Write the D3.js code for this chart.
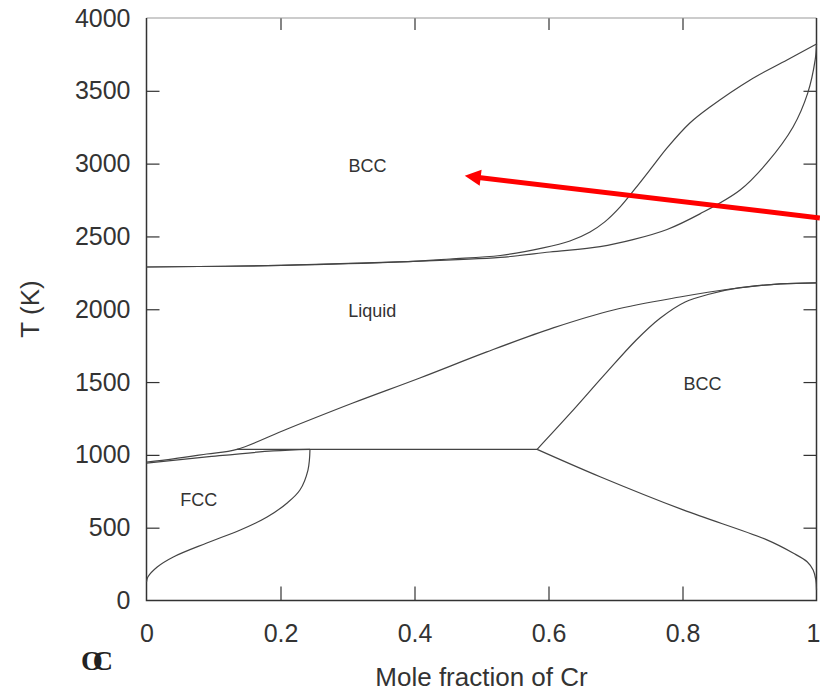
<!DOCTYPE html>
<html>
<head>
<meta charset="utf-8">
<script src="https://cdn.jsdelivr.net/npm/d3@7"></script>
<style>
  html, body { margin: 0; padding: 0; background: #fff; }
  svg { display: block; font-family: "Liberation Sans", Arial, sans-serif; }
</style>
</head>
<body>
<svg id="chart" width="820" height="693"></svg>
<script>
// Phase boundaries: [mole fraction Cr, T (K)]
const bccLensUpper = [
  [0, 2290], [0.201, 2301], [0.378, 2325], [0.453, 2345], [0.528, 2369], [0.592, 2421],
  [0.632, 2469], [0.662, 2531], [0.684, 2600], [0.707, 2703], [0.729, 2826], [0.756, 2984],
  [0.777, 3108], [0.811, 3279], [0.841, 3389], [0.901, 3575], [0.956, 3712], [1, 3822]
];
const bccLensLower = [
  [0, 2290], [0.201, 2301], [0.378, 2325], [0.528, 2356], [0.602, 2393], [0.677, 2430],
  [0.726, 2478], [0.777, 2548], [0.826, 2655], [0.886, 2819], [0.926, 3005], [0.965, 3252],
  [0.987, 3486], [0.998, 3712], [1, 3822]
];
const liquidus = [
  [0, 951], [0.040, 972], [0.090, 1006], [0.135, 1038], [0.210, 1178], [0.308, 1356],
  [0.408, 1528], [0.508, 1707], [0.607, 1872], [0.697, 1995], [0.796, 2084], [0.871, 2139],
  [0.946, 2174], [1, 2181]
];
const fccSolidus = [[0, 944], [0.090, 986], [0.189, 1027], [0.244, 1038]];
const threePhaseLine = [[0.135, 1038], [0.583, 1038]];
const fccSolvus = [
  [0.244, 1038], [0.241, 896], [0.229, 759], [0.210, 670], [0.180, 573], [0.140, 484],
  [0.090, 395], [0.040, 299], [0.016, 230], [0.002, 161], [0, 127]
];
const bccSolvusUpper = [
  [0.583, 1038], [0.633, 1288], [0.682, 1542], [0.731, 1789], [0.767, 1940], [0.804, 2050],
  [0.841, 2105], [0.886, 2148], [0.946, 2174], [1, 2181]
];
const bccSolvusLower = [
  [0.583, 1038], [0.677, 850], [0.801, 622], [0.926, 416], [0.965, 326], [0.986, 266],
  [0.995, 209], [0.999, 141], [1, 72]
];
const boundaries = [bccLensUpper, bccLensLower, liquidus, fccSolidus, threePhaseLine,
  fccSolvus, bccSolvusUpper, bccSolvusLower];

const phaseLabels = [
  { text: 'BCC', x: 0.33, t: 2943 },
  { text: 'Liquid', x: 0.337, t: 1947 },
  { text: 'BCC', x: 0.83, t: 1446 },
  { text: 'FCC', x: 0.078, t: 649 }
];
// red annotation arrow, tail -> tip in data units
const arrowTail = [1.005, 2627];
const arrowTip = [0.475, 2916];

const xTicks = [0, 0.2, 0.4, 0.6, 0.8, 1];
const yTicks = [0, 500, 1000, 1500, 2000, 2500, 3000, 3500, 4000];

const svg = d3.select('#chart');

const x = d3.scaleLinear().domain([0, 1]).range([146.5, 816.5]);
const y = d3.scaleLinear().domain([0, 4000]).range([600.5, 18]);

// Axes with inward ticks on all four sides
const left = svg.append('g')
  .attr('transform', `translate(${x(0)},0)`)
  .call(d3.axisLeft(y).tickValues(yTicks).tickSize(-13).tickPadding(16).tickSizeOuter(0)
    .tickFormat(d3.format('d')));
const bottom = svg.append('g')
  .attr('transform', `translate(0,${y(0)})`)
  .call(d3.axisBottom(x).tickValues(xTicks).tickSize(-14).tickPadding(24).tickSizeOuter(0)
    .tickFormat(d3.format('~g')));
svg.append('g')
  .attr('transform', `translate(${x(1)},0)`)
  .call(d3.axisRight(y).tickValues(yTicks.slice(1, -1)).tickSize(-13).tickSizeOuter(0).tickFormat(''));
svg.append('g')
  .attr('transform', `translate(0,${y(4000)})`)
  .call(d3.axisTop(x).tickValues(xTicks.slice(1, -1)).tickSize(-12).tickSizeOuter(0).tickFormat(''));

svg.selectAll('.domain').remove();
svg.selectAll('.tick line').attr('stroke', '#333').attr('stroke-width', 1.2);
svg.selectAll('.tick text').attr('fill', '#333').style('font-size', '25px')
  .style('font-family', '"Liberation Sans", Arial, sans-serif');
left.selectAll('.tick line').filter(d => d === 0 || d === 4000).remove();
bottom.selectAll('.tick line').filter(d => d === 0 || d === 1).remove();
// last label sits at the right edge of the page
bottom.selectAll('.tick text').filter(d => d === 1)
  .attr('text-anchor', 'end').attr('x', 820 - x(1));

// Frame
svg.append('line')
  .attr('x1', x(0)).attr('x2', x(1)).attr('y1', y(4000)).attr('y2', y(4000))
  .attr('stroke', '#9a9a9a').attr('stroke-width', 1.2);
svg.append('path')
  .attr('d', `M${x(0)},${y(4000)}V${y(0)}H${x(1)}V${y(4000)}`)
  .attr('fill', 'none').attr('stroke', '#333').attr('stroke-width', 1.5);

// Phase boundaries
const line = d3.line()
  .x(d => x(d[0]))
  .y(d => y(d[1]))
  .curve(d3.curveCatmullRom.alpha(0.5));

svg.append('g')
  .selectAll('path')
  .data(boundaries)
  .enter()
  .append('path')
  .attr('d', line)
  .attr('fill', 'none')
  .attr('stroke', '#444')
  .attr('stroke-width', 1.2);

// Phase labels
svg.append('g')
  .selectAll('text')
  .data(phaseLabels)
  .enter()
  .append('text')
  .attr('x', d => x(d.x))
  .attr('y', d => y(d.t))
  .attr('text-anchor', 'middle')
  .attr('fill', '#333')
  .style('font-size', '18px')
  .text(d => d.text);

// Axis titles
svg.append('text')
  .attr('x', (x(0) + x(1)) / 2)
  .attr('y', 686)
  .attr('text-anchor', 'middle')
  .attr('fill', '#333')
  .style('font-size', '26px')
  .text('Mole fraction of Cr');

svg.append('text')
  .attr('transform', 'translate(39,309) rotate(-90)')
  .attr('text-anchor', 'middle')
  .attr('fill', '#333')
  .style('font-size', '26px')
  .text('T (K)');

// stray glyph under the axis
svg.append('text')
  .attr('x', 81)
  .attr('y', 670)
  .attr('fill', '#222')
  .style('font-family', '"Liberation Serif", "DejaVu Serif", serif')
  .style('font-weight', 'bold')
  .style('font-size', '28px')
  .style('letter-spacing', '-10px')
  .text('OC');

// Red arrow
const tip = [x(arrowTip[0]), y(arrowTip[1])];
const tail = [x(arrowTail[0]), y(arrowTail[1])];
const len = Math.hypot(tail[0] - tip[0], tail[1] - tip[1]);
const ux = (tail[0] - tip[0]) / len;
const uy = (tail[1] - tip[1]) / len;
const headLen = 16;
const headHalf = 8;
svg.append('line')
  .attr('x1', tail[0]).attr('y1', tail[1])
  .attr('x2', tip[0] + ux * (headLen - 2)).attr('y2', tip[1] + uy * (headLen - 2))
  .attr('stroke', '#ff0000').attr('stroke-width', 5);
svg.append('path')
  .attr('d', `M${tip[0]},${tip[1]}` +
    `L${tip[0] + ux * headLen - uy * headHalf},${tip[1] + uy * headLen + ux * headHalf}` +
    `L${tip[0] + ux * headLen + uy * headHalf},${tip[1] + uy * headLen - ux * headHalf}Z`)
  .attr('fill', '#ff0000');
</script>
</body>
</html>
